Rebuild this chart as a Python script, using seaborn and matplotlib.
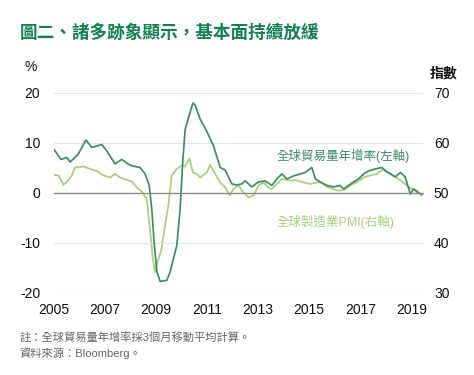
import pandas as pd
import matplotlib.pyplot as plt
import seaborn as sns

# Global trade volume, YoY % (left axis)
trade_t = [2005.0, 2005.27, 2005.5, 2005.63, 2005.94, 2006.25, 2006.48, 2006.87,
           2007.07, 2007.39, 2007.65, 2007.9, 2008.05, 2008.37, 2008.57, 2008.73,
           2008.83, 2008.92, 2009.03, 2009.16, 2009.42, 2009.55, 2009.81, 2009.94,
           2010.05, 2010.14, 2010.27, 2010.44, 2010.53, 2010.73, 2010.99, 2011.25,
           2011.51, 2011.7, 2011.97, 2012.16, 2012.36, 2012.49, 2012.75, 2013.01,
           2013.27, 2013.54, 2013.73, 2013.93, 2014.13, 2014.38, 2014.65, 2014.84,
           2015.1, 2015.24, 2015.43, 2015.7, 2015.95, 2016.2, 2016.35, 2016.54,
           2016.74, 2016.93, 2017.13, 2017.33, 2017.59, 2017.85, 2017.98, 2018.18,
           2018.37, 2018.57, 2018.76, 2018.9, 2018.96, 2019.09, 2019.22, 2019.4]
trade_v = [8.7, 6.7, 7.1, 6.2, 7.7, 10.6, 9.1, 9.7,
           8.4, 5.8, 6.7, 5.8, 5.4, 5.1, 3.8, 1.5,
           -3.2, -9.8, -15.8, -17.7, -17.5, -15.8, -10.5, -3.2,
           6.8, 12.8, 15.1, 18.0, 17.6, 14.7, 12.3, 9.4,
           5.1, 4.6, 1.8, 1.6, 1.8, 2.4, 1.2, 2.2,
           2.4, 1.5, 2.8, 3.8, 2.8, 3.4, 3.8, 4.1,
           5.1, 2.8, 2.2, 1.5, 1.2, 1.5, 0.8, 1.5,
           2.2, 2.8, 3.8, 4.4, 4.8, 5.1, 4.4, 3.8,
           3.2, 4.1, 3.2, 0.8, -0.2, 0.8, 0.2, -0.3]

# Global manufacturing PMI (right axis)
pmi_t = [2005.0, 2005.17, 2005.37, 2005.56, 2005.69, 2005.82, 2006.15, 2006.41,
         2006.67, 2006.93, 2007.2, 2007.39, 2007.59, 2007.85, 2008.05, 2008.24,
         2008.44, 2008.63, 2008.76, 2008.87, 2008.96, 2009.09, 2009.2, 2009.35,
         2009.48, 2009.61, 2009.81, 2010.01, 2010.14, 2010.31, 2010.44, 2010.6,
         2010.73, 2010.99, 2011.12, 2011.31, 2011.51, 2011.71, 2011.88, 2012.03,
         2012.23, 2012.42, 2012.62, 2012.82, 2013.01, 2013.21, 2013.4, 2013.54,
         2013.73, 2013.93, 2014.25, 2014.52, 2014.78, 2015.04, 2015.43, 2015.7,
         2016.09, 2016.35, 2016.6, 2016.86, 2017.13, 2017.39, 2017.65, 2017.91,
         2018.11, 2018.3, 2018.57, 2018.83, 2019.02, 2019.22, 2019.42]
pmi_v = [53.6, 53.5, 51.6, 52.5, 53.4, 55.1, 55.3, 54.8,
         54.4, 53.5, 53.1, 53.8, 53.1, 52.6, 52.3, 51.1,
         50.3, 48.8, 42.8, 36.8, 34.2, 36.8, 38.5, 43.5,
         47.5, 53.5, 54.8, 55.5, 55.3, 56.9, 54.1, 53.8,
         53.1, 54.1, 55.6, 53.8, 52.1, 51.1, 49.5, 50.8,
         51.5, 50.1, 49.1, 49.5, 51.5, 52.1, 51.1, 50.8,
         51.8, 52.8, 52.5, 52.5, 52.1, 51.8, 52.2, 51.2,
         50.5, 50.5, 51.5, 52.1, 53.1, 53.5, 53.8, 54.8,
         54.1, 53.5, 52.5, 51.5, 50.8, 50.5, 49.5]

year_ticks = [2005, 2007, 2009, 2011, 2013, 2015, 2017, 2019]
left_ticks = [-20, -10, 0, 10, 20]
right_ticks = [30, 40, 50, 60, 70]

DARK = "#3f8d62"
LIGHT = "#a5d07c"
TITLE = "#13814f"

sns.set_style("white")
plt.rcParams['font.family'] = ['Liberation Sans', 'Noto Sans CJK TC', 'DejaVu Sans']

trade = pd.DataFrame({"t": trade_t, "v": trade_v})
pmi = pd.DataFrame({"t": pmi_t, "v": pmi_v})

fig = plt.figure(figsize=(4.74, 3.75), dpi=100)
ax = fig.add_axes([0.114, 0.219, 0.778, 0.533])
ax2 = ax.twinx()

sns.lineplot(data=pmi, x="t", y="v", ax=ax2, color=LIGHT, linewidth=1.25)
sns.lineplot(data=trade, x="t", y="v", ax=ax, color=DARK, linewidth=1.25)
ax.set_zorder(ax2.get_zorder() + 1)
ax.patch.set_visible(False)

ax.set_xlim(2005, 2019.45)
ax.set_ylim(-20, 20)
ax2.set_ylim(30, 70)

for s in ax.spines.values():
    s.set_visible(False)
for s in ax2.spines.values():
    s.set_visible(False)
ax.spines['bottom'].set_visible(True)
ax.spines['bottom'].set_position(('data', 0))
ax.spines['bottom'].set_color("#8a8a8a")
ax.spines['bottom'].set_linewidth(1.0)

for g in [-20, -10, 10, 20]:
    ax.axhline(g, color="#e6e6e6", linewidth=0.8, zorder=0)

ax.set_xticks(year_ticks)
ax.set_xticklabels([str(y) for y in year_ticks], fontsize=10)
ax.tick_params(axis='x', direction='out', length=3, width=1, color="#8a8a8a",
               pad=76, labelcolor="#111111")
ax.set_yticks(left_ticks)
ax.set_yticklabels([str(v) for v in left_ticks], fontsize=10)
ax.tick_params(axis='y', length=0, pad=10, labelcolor="#111111")
ax2.set_yticks(right_ticks)
ax2.set_yticklabels([str(v) for v in right_ticks], fontsize=10)
ax2.tick_params(axis='y', length=0, pad=8, labelcolor="#111111")
ax.set_xlabel("")
ax.set_ylabel("")
ax2.set_ylabel("")

# series labels
ax.text(2013.7, 7.4, "全球貿易量年增率(左軸)", color=DARK, fontsize=9,
        va='center', ha='left')
ax.text(2013.7, -5.8, "全球製造業PMI(右軸)", color=LIGHT, fontsize=9,
        va='center', ha='left')

# axis unit labels
fig.text(0.065, 0.821, "%", fontsize=10, ha='center', va='center', color="#111111")
fig.text(0.935, 0.805, "指數", fontsize=10, ha='center', va='center',
         color="#111111", fontweight='bold')

# title and notes
fig.text(0.042, 0.912, "圖二、諸多跡象顯示，基本面持續放緩", fontsize=12.7,
         fontweight='bold', color=TITLE, ha='left', va='center')
fig.text(0.042, 0.099, "註：全球貿易量年增率採3個月移動平均計算。", fontsize=8.1,
         color="#666666", ha='left', va='center')
fig.text(0.042, 0.059, "資料來源：Bloomberg。", fontsize=8.1,
         color="#666666", ha='left', va='center')

fig.savefig("out.png", dpi=100)
